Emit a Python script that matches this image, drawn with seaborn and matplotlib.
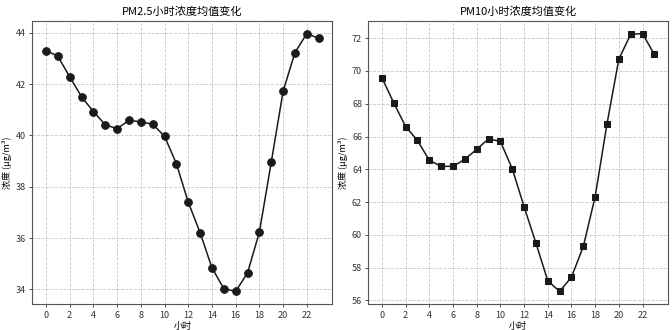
import matplotlib
matplotlib.use("Agg")
import matplotlib.pyplot as plt
import seaborn as sns
import pandas as pd

hours = list(range(24))
pm25 = [43.31, 43.09, 42.29, 41.51, 40.93, 40.42, 40.26, 40.59, 40.53, 40.44,
        39.97, 38.90, 37.40, 36.21, 34.84, 34.03, 33.92, 34.64, 36.23, 38.95,
        41.72, 43.23, 43.97, 43.79]
pm10 = [69.59, 68.05, 66.61, 65.76, 64.55, 64.18, 64.18, 64.61, 65.22, 65.86,
        65.70, 64.04, 61.72, 59.50, 57.20, 56.55, 57.42, 59.29, 62.33, 66.77,
        70.72, 72.24, 72.28, 71.01]
titles = ["PM2.5小时浓度均值变化", "PM10小时浓度均值变化"]
xlabel = "小时"
ylabel = "浓度 (μg/m³)"
xticks = list(range(0, 24, 2))

plt.rcParams["font.family"] = ["Noto Sans CJK SC", "DejaVu Sans"]
plt.rcParams["axes.unicode_minus"] = False

df = pd.DataFrame({"hour": hours, "PM2.5": pm25, "PM10": pm10})

fig = plt.figure(figsize=(6.72, 3.30), dpi=100)
ax1 = fig.add_axes([32.3 / 672, 25.7 / 330, 300 / 672, 283.6 / 330])
ax2 = fig.add_axes([368.3 / 672, 25.7 / 330, 299.7 / 672, 283.6 / 330])

for ax, col, marker, title in [(ax1, "PM2.5", "o", titles[0]),
                               (ax2, "PM10", "s", titles[1])]:
    sns.lineplot(data=df, x="hour", y=col, ax=ax, color="#1a1a1a",
                 marker=marker, markersize=5.5 if marker == "o" else 5,
                 markeredgecolor="#1a1a1a", linewidth=1.1)
    ax.set_title(title, fontsize=8, pad=4)
    ax.set_xlabel(xlabel, fontsize=6.5, labelpad=2)
    ax.set_ylabel(ylabel, fontsize=6.5, labelpad=3)
    ax.set_xticks(xticks)
    ax.tick_params(labelsize=6.5, length=2.5, width=0.6, pad=2, colors="#333333")
    ax.grid(True, linestyle="--", color="#b0b0b0", linewidth=0.6, alpha=0.7)
    for s in ax.spines.values():
        s.set_color("#555555")
        s.set_linewidth(0.8)

ax1.set_yticks([34, 36, 38, 40, 42, 44])
ax2.set_yticks([56, 58, 60, 62, 64, 66, 68, 70, 72])

fig.savefig("out.png", dpi=100, facecolor="white")
